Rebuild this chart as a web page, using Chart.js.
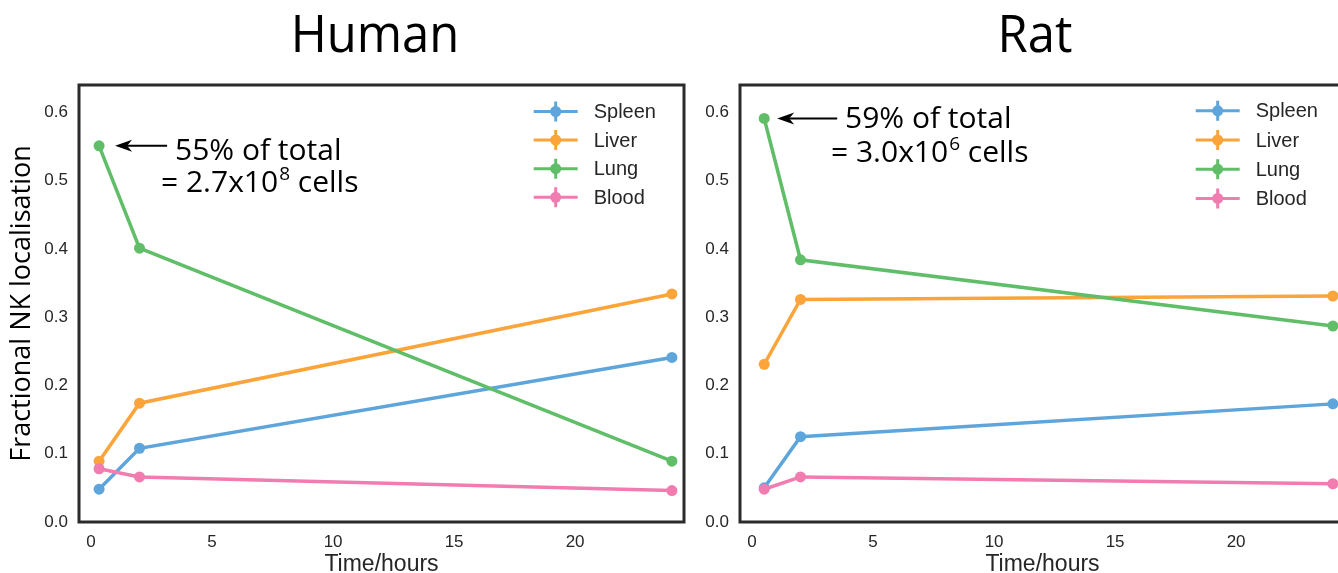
<!DOCTYPE html>
<html>
<head>
<meta charset="utf-8">
<script src="https://cdn.jsdelivr.net/npm/chart.js@4.4.1/dist/chart.umd.min.js"></script>
<style>
  html, body { margin: 0; padding: 0; background: #fff; overflow: hidden; }
  #wrap { position: relative; width: 1338px; height: 573px; overflow: hidden; background: #fff; }
  #human { position: absolute; left: 0; top: 0; }
  #rat { position: absolute; left: 700px; top: 0; }
</style>
</head>
<body>
<div id="wrap">
  <canvas id="human" width="700" height="573"></canvas>
  <canvas id="rat" width="660" height="573"></canvas>
</div>
<script>
// Organs and their line colours
const organs = ['Spleen', 'Liver', 'Lung', 'Blood'];
const organColours = ['#5DA5DA', '#FAA43A', '#60BD68', '#F17CB0'];

// Human: sampling times (hours) and fractional NK localisation per organ
const humanHours = [0.33, 2, 24];
const humanSpleen = [0.048, 0.108, 0.241];
const humanLiver = [0.089, 0.174, 0.334];
const humanLung = [0.551, 0.401, 0.089];
const humanBlood = [0.078, 0.066, 0.046];

// Rat: sampling times (hours) and fractional NK localisation per organ
const ratHours = [0.5, 2, 24];
const ratSpleen = [0.050, 0.125, 0.173];
const ratLiver = [0.231, 0.326, 0.331];
const ratLung = [0.591, 0.384, 0.287];
const ratBlood = [0.048, 0.066, 0.056];

// Axis ticks
const xTicks = [0, 5, 10, 15, 20];
const yTicks = [0, 0.1, 0.2, 0.3, 0.4, 0.5, 0.6];

const SANS = '"Liberation Sans", Arial, sans-serif';
const HUMANIST = '"Open Sans", "Noto Sans", sans-serif';
const INK = '#262626';

function makeDatasets(hours, series) {
  return series.map((vals, i) => ({
    label: organs[i],
    data: hours.map((h, k) => ({ x: h, y: vals[k] })),
    borderColor: organColours[i],
    backgroundColor: organColours[i],
    pointBackgroundColor: organColours[i],
    pointBorderWidth: 0,
    pointRadius: 5.5,
    pointHoverRadius: 5.5,
    borderWidth: 3.5,
    tension: 0,
    order: 4 - i
  }));
}

// Box around the plotting area
const framePlugin = {
  id: 'frame',
  afterDraw(chart) {
    const { ctx, chartArea: a } = chart;
    ctx.save();
    ctx.strokeStyle = '#2b2b2b';
    ctx.lineWidth = 3;
    ctx.strokeRect(a.left, a.top, a.right - a.left, a.bottom - a.top);
    ctx.restore();
  }
};

// Legend with error-bar style markers
const legendPlugin = {
  id: 'organLegend',
  afterDraw(chart, args, o) {
    const ctx = chart.ctx;
    ctx.save();
    chart.data.datasets.forEach((ds, i) => {
      const cy = o.y + i * o.rowGap;
      ctx.strokeStyle = ds.borderColor;
      ctx.fillStyle = ds.borderColor;
      ctx.lineWidth = 3;
      ctx.beginPath();
      ctx.moveTo(o.x - 22, cy); ctx.lineTo(o.x + 22, cy);
      ctx.moveTo(o.x, cy - 10); ctx.lineTo(o.x, cy + 10);
      ctx.stroke();
      ctx.beginPath();
      ctx.arc(o.x, cy, 5.5, 0, Math.PI * 2);
      ctx.fill();
      ctx.fillStyle = INK;
      ctx.font = '20px ' + SANS;
      ctx.textAlign = 'left';
      ctx.textBaseline = 'middle';
      ctx.fillText(ds.label, o.x + 38, cy + 1);
    });
    ctx.restore();
  }
};

// Panel heading
const headingPlugin = {
  id: 'heading',
  afterDraw(chart, args, o) {
    const ctx = chart.ctx;
    ctx.save();
    ctx.fillStyle = '#000';
    ctx.font = '51px ' + HUMANIST;
    ctx.textAlign = 'center';
    ctx.textBaseline = 'alphabetic';
    ctx.translate(o.x, o.y);
    ctx.scale(0.96, 1);
    ctx.fillText(o.text, 0, 0);
    ctx.restore();
  }
};

// Arrow and note pointing at the first lung value
const notePlugin = {
  id: 'note',
  afterDraw(chart, args, o) {
    const ctx = chart.ctx;
    const pt = chart.getDatasetMeta(o.datasetIndex).data[0];
    const tipX = pt.x + o.gap, tipY = pt.y;
    const tailX = tipX + o.length;
    ctx.save();
    ctx.strokeStyle = '#000';
    ctx.fillStyle = '#000';
    ctx.lineWidth = 2;
    ctx.beginPath();
    ctx.moveTo(tipX + 10, tipY); ctx.lineTo(tailX, tipY);
    ctx.stroke();
    ctx.beginPath();
    ctx.moveTo(tipX, tipY);
    ctx.lineTo(tipX + 17, tipY - 6);
    ctx.lineTo(tipX + 12, tipY);
    ctx.lineTo(tipX + 17, tipY + 6);
    ctx.closePath();
    ctx.fill();

    ctx.textAlign = 'left';
    ctx.textBaseline = 'alphabetic';
    ctx.font = '30px ' + HUMANIST;
    ctx.fillText(o.line1, o.x1, o.y1);
    let x = o.x2;
    ctx.fillText(o.line2a, x, o.y2);
    x += ctx.measureText(o.line2a).width + 1;
    ctx.font = '19px ' + HUMANIST;
    ctx.fillText(o.sup, x, o.y2 - 12);
    x += ctx.measureText(o.sup).width;
    ctx.font = '30px ' + HUMANIST;
    ctx.fillText(o.line2b, x, o.y2);
    ctx.restore();
  }
};

function panel(canvasId, hours, series, cfg) {
  return new Chart(document.getElementById(canvasId), {
    type: 'line',
    data: { datasets: makeDatasets(hours, series) },
    plugins: [framePlugin, legendPlugin, headingPlugin, notePlugin],
    options: {
      responsive: false,
      devicePixelRatio: 1,
      animation: false,
      layout: { padding: { top: 85, right: cfg.padRight, bottom: 0, left: 0 } },
      scales: {
        x: {
          type: 'linear',
          min: -0.5,
          max: 24.5,
          afterBuildTicks: s => { s.ticks = xTicks.map(v => ({ value: v })); },
          afterFit: s => { s.height = 51; s.paddingLeft = 0; s.paddingRight = 0; },
          grid: { display: false, drawTicks: false },
          border: { display: false },
          ticks: { padding: 10, color: INK, font: { family: SANS, size: 17 } },
          title: {
            display: true,
            text: 'Time/hours',
            color: INK,
            font: { family: SANS, size: 23, lineHeight: 0.7 },
            padding: { top: 0, bottom: 0 }
          }
        },
        y: {
          min: 0,
          max: 0.64,
          afterBuildTicks: s => { s.ticks = yTicks.map(v => ({ value: v })); },
          afterFit: s => { s.width = cfg.yWidth; s.paddingTop = 0; s.paddingBottom = 0; },
          grid: { display: false, drawTicks: false },
          border: { display: false },
          ticks: {
            padding: 11,
            color: INK,
            font: { family: SANS, size: 17 },
            callback: v => Number(v).toFixed(1)
          },
          title: {
            display: cfg.yTitle,
            text: 'Fractional NK localisation',
            color: '#000',
            font: { family: HUMANIST, size: 27, lineHeight: 1 },
            padding: { top: 9, bottom: 0 }
          }
        }
      },
      plugins: {
        legend: { display: false },
        tooltip: { enabled: false },
        organLegend: cfg.legend,
        heading: cfg.heading,
        note: cfg.note
      }
    }
  });
}

panel('human', humanHours, [humanSpleen, humanLiver, humanLung, humanBlood], {
  padRight: 16,
  yWidth: 79,
  yTitle: true,
  legend: { x: 555.7, y: 111.5, rowGap: 28.6 },
  heading: { text: 'Human', x: 375, y: 52 },
  note: {
    datasetIndex: 2, gap: 16, length: 52,
    line1: '55% of total', x1: 175, y1: 160,
    line2a: '= 2.7x10', sup: '8', line2b: ' cells', x2: 161, y2: 192
  }
});

panel('rat', ratHours, [ratSpleen, ratLiver, ratLung, ratBlood], {
  padRight: 15,
  yWidth: 40,
  yTitle: false,
  legend: { x: 517.7, y: 110.8, rowGap: 29.2 },
  heading: { text: 'Rat', x: 335, y: 52 },
  note: {
    datasetIndex: 2, gap: 13, length: 60,
    line1: '59% of total', x1: 145, y1: 128,
    line2a: '= 3.0x10', sup: '6', line2b: ' cells', x2: 131, y2: 162
  }
});
</script>
</body>
</html>
